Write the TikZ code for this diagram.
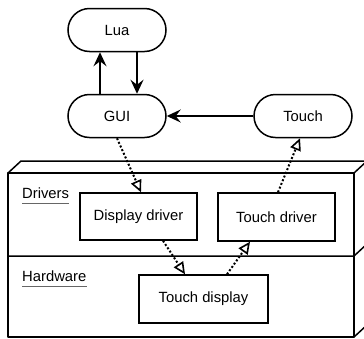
\documentclass[tikz,border=0pt]{standalone}
\usepackage{fontspec}
\setmainfont{Liberation Sans}
\usetikzlibrary{arrows.meta}
\begin{document}
\begin{tikzpicture}[x=1pt,y=-1pt,
  every node/.style={font=\fontsize{14.8}{17}\selectfont},
  pill/.style={draw, line width=1.5pt, rounded corners=21.5pt, minimum width=98pt, minimum height=43pt, inner sep=0pt},
  comp/.style={draw, line width=1.5pt, inner sep=0pt},
  flow/.style={line width=1.5pt, -{Stealth[length=14pt,width=13pt,inset=5pt]}},
  dep/.style={line width=2pt, dash pattern=on 2pt off 2pt, -{Triangle[open,length=12pt,width=11pt,line width=1.6pt]}},
  layer/.style={line width=1.5pt, line join=round},
  lbl/.style={inner sep=0pt, anchor=base west},
  uline/.style={line width=1pt, draw=black!60}]
\useasboundingbox (0,0) rectangle (364,338);
\clip (0,0) rectangle (364,338);
% layered box
\draw[layer] (8,173) rectangle (354,337);
\draw[layer] (8,173) -- (21,161) -- (380,161);
\draw[layer] (354,173) -- (367,161);
\draw[layer] (354,337) -- (367,325);
\draw[layer] (8,256) -- (354,256) -- (367,244);
% nodes
\node[pill] (lua) at (117,30) {Lua};
\node[pill] (gui) at (117,116) {GUI};
\node[pill] (touch) at (303,116) {Touch};
\node[comp, minimum width=117pt, minimum height=47pt] (dd) at (138.5,216.5) {Display driver};
\node[comp, minimum width=117pt, minimum height=48pt] (td) at (276.5,217) {Touch driver};
\node[comp, minimum width=129pt, minimum height=48pt] (tdisp) at (203.5,299) {Touch display};
\node[lbl] (drv) at (22,198) {Drivers};
\node[lbl] (hw) at (22,281) {Hardware};
\draw[uline] ([yshift=-5pt]drv.base west) -- ([yshift=-5pt]drv.base east);
\draw[uline] ([yshift=-5pt]hw.base west) -- ([yshift=-5pt]hw.base east);
% connectors
\draw[flow] ([xshift=-17pt]gui.north) -- ([xshift=-17pt]lua.south);
\draw[flow] ([xshift=20pt]lua.south) -- ([xshift=20pt]gui.north);
\draw[flow] (touch.west) -- (gui.east);
\draw[dep] (gui.south) -- ([xshift=2.5pt]dd.north);
\draw[dep] ([xshift=1.5pt]td.north) -- ([xshift=-3pt]touch.south);
\draw[dep] ([xshift=24.5pt]dd.south) -- ([xshift=-18.5pt]tdisp.north);
\draw[dep] ([xshift=23.5pt]tdisp.north) -- ([xshift=-26.5pt]td.south);
\end{tikzpicture}
\end{document}
